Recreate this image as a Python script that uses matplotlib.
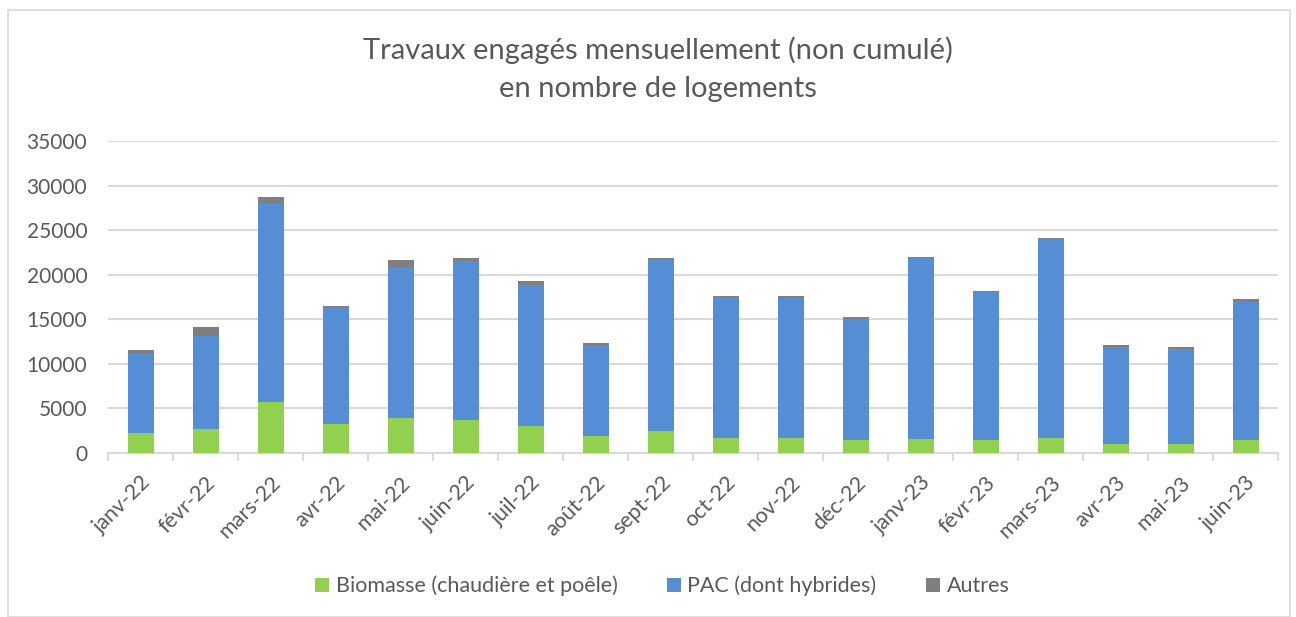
import matplotlib
matplotlib.use("Agg")
import matplotlib.pyplot as plt
from matplotlib.patches import Rectangle
import numpy as np

months = ["janv-22", "févr-22", "mars-22", "avr-22", "mai-22", "juin-22",
          "juil-22", "août-22", "sept-22", "oct-22", "nov-22", "déc-22",
          "janv-23", "févr-23", "mars-23", "avr-23", "mai-23", "juin-23"]
biomasse = [2250, 2690, 5720, 3210, 3930, 3660, 2990, 1910, 2470, 1650,
            1680, 1460, 1570, 1420, 1680, 970, 1050, 1500]
pac = [8900, 10440, 22290, 13200, 16980, 17920, 15900, 10250, 19300, 15890,
       15670, 13610, 20270, 16640, 22290, 10960, 10660, 15480]
autres = [370, 1050, 680, 70, 740, 260, 410, 150, 110, 110,
          265, 150, 110, 115, 150, 150, 190, 260]

green = "#92D050"
blue = "#558ED5"
grey = "#7F7F7F"
text_col = "#595959"
grid_col = "#D9D9D9"

plt.rcParams["font.family"] = ["Lato", "DejaVu Sans"]

fig = plt.figure(figsize=(12.96, 6.17), dpi=100)
ax = fig.add_axes([108 / 1296, 1 - 453 / 617, 1170 / 1296, 312 / 617])

x = np.arange(len(months))
bio = np.array(biomasse)
p = np.array(pac)
a = np.array(autres)
w = 0.4
ax.bar(x, bio, w, color=green, label="Biomasse (chaudière et poêle)", zorder=3)
ax.bar(x, p, w, bottom=bio, color=blue, label="PAC (dont hybrides)", zorder=3)
ax.bar(x, a, w, bottom=bio + p, color=grey, label="Autres", zorder=3)

ax.set_xlim(-0.5, len(months) - 0.5)
ax.set_ylim(0, 35000)
ax.set_yticks(range(0, 35001, 5000))
ax.yaxis.grid(True, color=grid_col, linewidth=1.5, zorder=0)
ax.tick_params(axis="y", length=0, pad=15, labelsize=15, labelcolor=text_col)

ax.set_xticks(x)
ax.set_xticklabels(months, rotation=45, ha="right", rotation_mode="anchor",
                   fontsize=15.5, color=text_col)
ax.set_xticks(np.arange(-0.5, len(months)), minor=True)
ax.tick_params(axis="x", which="major", length=0, pad=14)
ax.tick_params(axis="x", which="minor", length=6, color=grid_col, width=1.5)

for side in ["top", "right", "left"]:
    ax.spines[side].set_visible(False)
ax.spines["bottom"].set_color(grid_col)
ax.spines["bottom"].set_linewidth(1.5)

fig.text(0.508, 1 - 50 / 617, "Travaux engagés mensuellement (non cumulé)",
         ha="center", va="center", fontsize=21, color=text_col)
fig.text(0.508, 1 - 89 / 617, "en nombre de logements",
         ha="center", va="center", fontsize=21, color=text_col)

leg = fig.legend(loc="center", bbox_to_anchor=(0.511, 1 - 586 / 617), ncol=3,
                 frameon=False, fontsize=15.5, handlelength=0.65, handleheight=0.65,
                 handletextpad=0.3, columnspacing=2.3)
for t in leg.get_texts():
    t.set_color(text_col)

fig.patches.append(Rectangle((8 / 1296, 0), 1282 / 1296, 1 - 10 / 617,
                             transform=fig.transFigure, fill=False,
                             edgecolor=grid_col, linewidth=1.2))

fig.savefig("out.png", dpi=100)
